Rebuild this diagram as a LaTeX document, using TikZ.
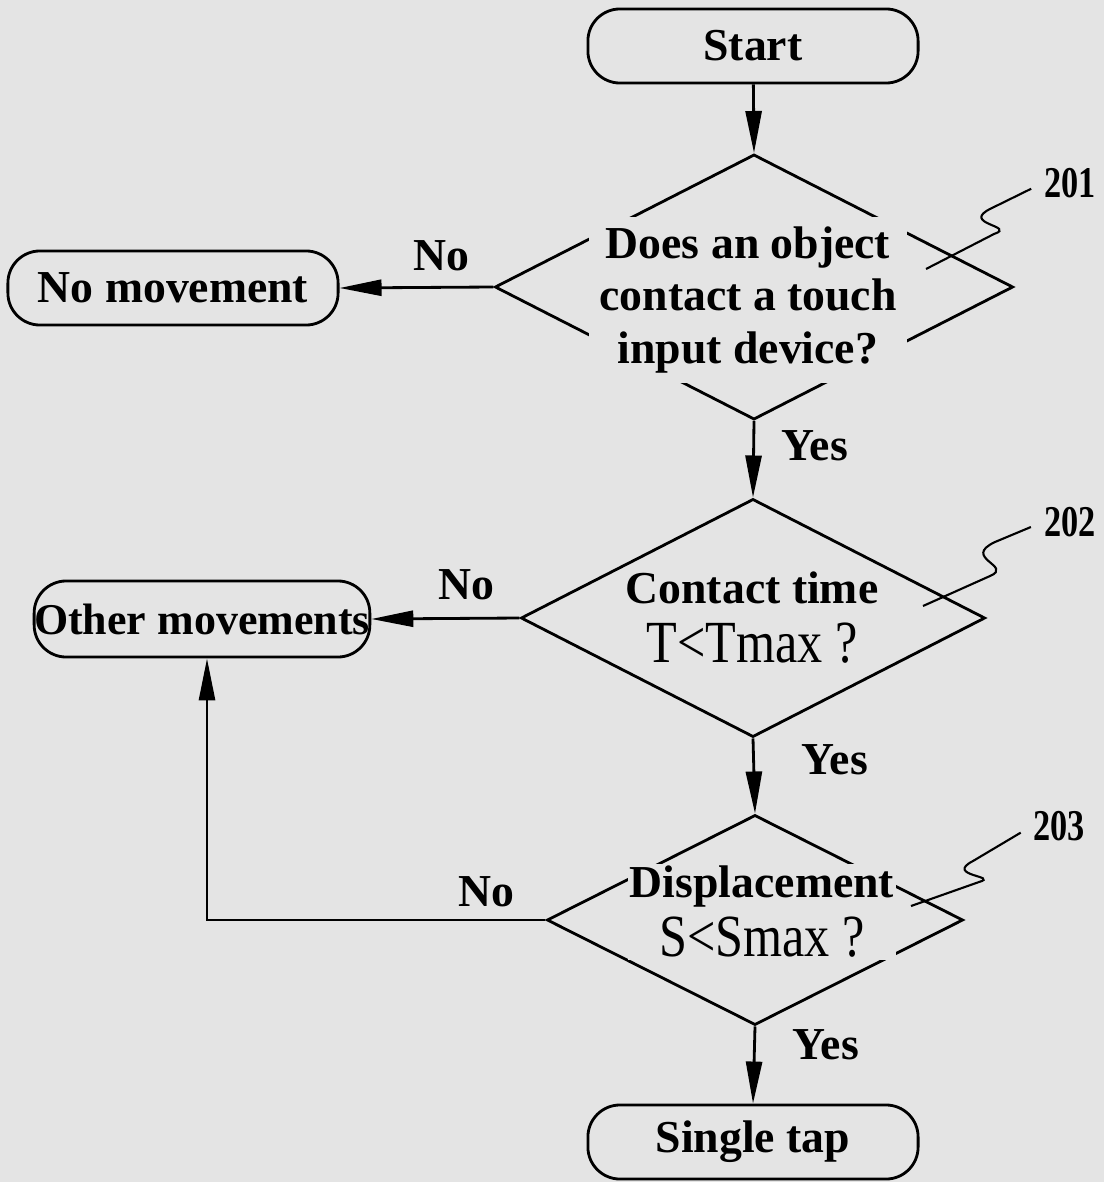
\documentclass[tikz,border=0pt]{standalone}
\usepackage{fontspec}
\setmainfont{Liberation Serif}
\usepackage{graphicx}
\usetikzlibrary{shapes.geometric,arrows.meta}
\definecolor{paper}{RGB}{228,228,228}
\newcommand{\narrowtext}[1]{\scalebox{0.84}[1]{\fontsize{17}{19}\mdseries\selectfont #1}}
\newcommand{\refdigits}[1]{\scalebox{0.78}[1]{#1}}
\begin{document}
\begin{tikzpicture}[x=0.01cm,y=0.01cm,line width=0.8pt,
  terminal/.style={draw,rounded corners=0.32cm,minimum width=3.3cm,minimum height=0.74cm,inner sep=0pt,font=\bfseries\fontsize{13}{15}\selectfont},
  decision/.style={draw,diamond,inner sep=0pt},
  question/.style={fill=paper,inner sep=0.1cm,align=center,font=\bfseries\fontsize{13}{14.8}\selectfont},
  answer/.style={inner sep=0pt,font=\bfseries\fontsize{13}{15}\selectfont},
  refnum/.style={inner sep=0pt,font=\bfseries\fontsize{12.5}{14}\selectfont},
  flow/.style={-{Triangle[length=0.42cm,width=0.16cm]}},
  leader/.style={line width=0.6pt,shorten <=0.13cm}]
\fill [paper] (0,0) rectangle (1104,-1182);
\useasboundingbox (0,0) rectangle (1104,-1182);
\node [terminal] (start) at (753,-46) {Start};
\node [decision,minimum width=5.18cm,minimum height=2.65cm] (d1) at (754,-287) {};
\node [question] (q1) at (748,-300) {Does an object\\contact a touch\\input device?};
\node [terminal] (nomove) at (173,-288) {No movement};
\node [decision,minimum width=4.64cm,minimum height=2.38cm] (d2) at (753,-618) {};
\node [question,fill=none] (q2) at (752,-618) {Contact time\\[2pt]\narrowtext{T<Tmax ?}};
\node [terminal,minimum width=3.33cm,minimum height=0.76cm,font=\bfseries\fontsize{12.5}{15}\selectfont] (othermove) at (202,-619) {Other movements};
\node [decision,minimum width=4.16cm,minimum height=2.1cm] (d3) at (755,-920) {};
\node [question,inner sep=0.02cm] (q3) at (762,-912) {Displacement\\[2pt]\narrowtext{S<Smax ?}};
\node [terminal] (tap) at (753,-1142) {Single tap};
\node [answer] (no1) at (441,-256) {No};
\node [answer] (yes1) at (815,-446) {Yes};
\node [answer] (no2) at (466,-585) {No};
\node [answer] (yes2) at (835,-760) {Yes};
\node [answer] (no3) at (486,-892) {No};
\node [answer] (yes3) at (826,-1045) {Yes};
\node [refnum] (n201) at (1070,-183) {\refdigits{201}};
\node [refnum] (n202) at (1070,-522) {\refdigits{202}};
\node [refnum] (n203) at (1059,-826) {\refdigits{203}};
\coordinate (l201) at (926,-269);
\coordinate (l202) at (923,-606);
\coordinate (l203) at (911,-906);
\draw [flow] (start) -- (d1.north);
\draw [flow] (d1.west) -- (nomove.east);
\draw [flow] (d1.south) -- (d2.north);
\draw [flow] (d2.west) -- (othermove.east);
\draw [flow] (d2.south) -- (d3.north);
\draw [flow] (d3.west) -| ([xshift=0.05cm]othermove.south);
\draw [flow] (d3.south) -- (tap.north);
\draw [leader] (n201.west) -- (992,-208) .. controls (958,-224) and (1018,-226) .. (994,-234) -- (l201);
\draw [leader] (n202.west) -- (995,-542) .. controls (961,-558) and (1014,-566) .. (990,-576) -- (l202);
\draw [leader] (n203.west) -- (973,-861) .. controls (944,-876) and (1000,-876) .. (979,-882) -- (l203);
\end{tikzpicture}
\end{document}
